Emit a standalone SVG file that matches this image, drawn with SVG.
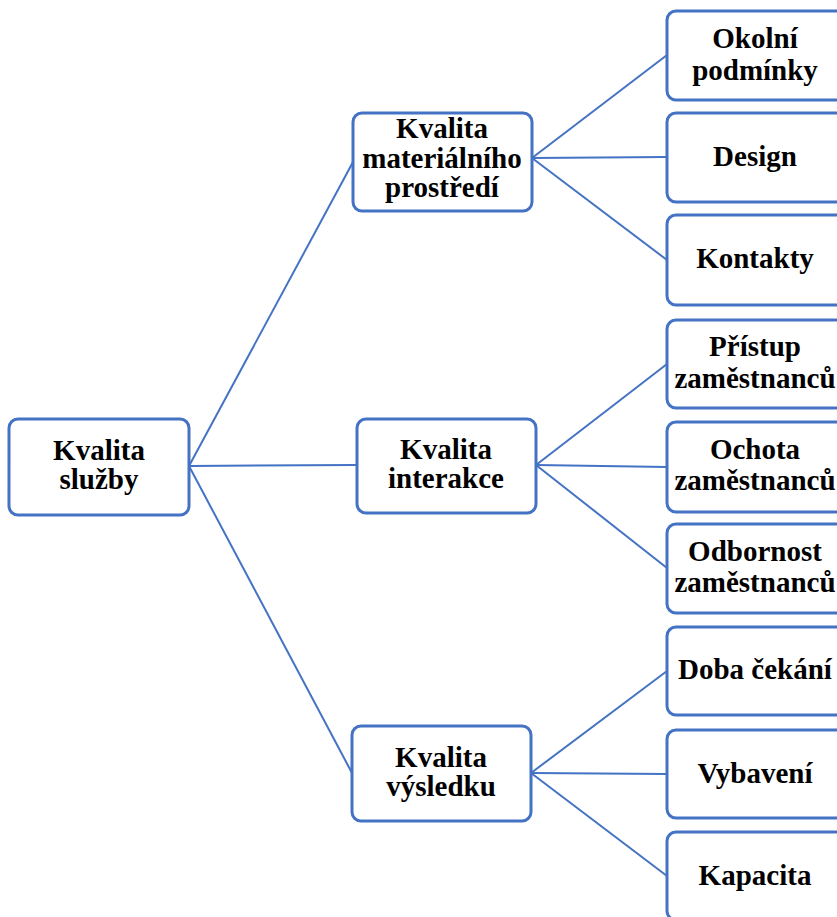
<svg xmlns="http://www.w3.org/2000/svg" width="837" height="917" viewBox="0 0 837 917">
<style>
.box{fill:#ffffff;stroke:#4472C4;stroke-width:3}
.t{font-family:"Liberation Serif","Times New Roman",serif;font-weight:bold;font-size:29px;fill:#000;text-anchor:middle}
.c{stroke:#4472C4;stroke-width:2;fill:none}
</style>
<rect width="837" height="917" fill="#ffffff"/>
<g id="connectors">
<line class="c" x1="189" y1="466" x2="353" y2="162"/>
<line class="c" x1="189" y1="466" x2="357" y2="465"/>
<line class="c" x1="189" y1="466" x2="352" y2="773"/>
<line class="c" x1="532" y1="158" x2="667" y2="55"/>
<line class="c" x1="532" y1="158" x2="667" y2="157"/>
<line class="c" x1="532" y1="158" x2="667" y2="260"/>
<line class="c" x1="536" y1="465" x2="667" y2="364"/>
<line class="c" x1="536" y1="465" x2="667" y2="467"/>
<line class="c" x1="536" y1="465" x2="667" y2="568"/>
<line class="c" x1="531" y1="773" x2="667" y2="671"/>
<line class="c" x1="531" y1="773" x2="667" y2="774"/>
<line class="c" x1="531" y1="773" x2="667" y2="876"/>
</g>
<g id="n-sluzby">
<rect class="box" x="9" y="419" width="180" height="96" rx="9"/>
<text class="t" x="99" y="460">Kvalita</text>
<text class="t" x="99" y="489">služby</text>
</g>
<g id="n-material">
<rect class="box" x="353" y="113" width="179" height="98" rx="9"/>
<text class="t" x="442" y="138">Kvalita</text>
<text class="t" x="442" y="168">materiálního</text>
<text class="t" x="442" y="197">prostředí</text>
</g>
<g id="n-interakce">
<rect class="box" x="357" y="419" width="179" height="94" rx="9"/>
<text class="t" x="446" y="459">Kvalita</text>
<text class="t" x="446" y="488">interakce</text>
</g>
<g id="n-vysledku">
<rect class="box" x="352" y="726" width="179" height="95" rx="9"/>
<text class="t" x="441" y="767">Kvalita</text>
<text class="t" x="441" y="796">výsledku</text>
</g>
<g id="n-okolni">
<rect class="box" x="667" y="11" width="180" height="89" rx="9"/>
<text class="t" x="755" y="48">Okolní</text>
<text class="t" x="755" y="80">podmínky</text>
</g>
<g id="n-design">
<rect class="box" x="667" y="113" width="180" height="89" rx="9"/>
<text class="t" x="755" y="166">Design</text>
</g>
<g id="n-kontakty">
<rect class="box" x="667" y="215" width="180" height="90" rx="9"/>
<text class="t" x="755" y="268">Kontakty</text>
</g>
<g id="n-pristup">
<rect class="box" x="667" y="320" width="180" height="88" rx="9"/>
<text class="t" x="755" y="356">Přístup</text>
<text class="t" x="755" y="388">zaměstnanců</text>
</g>
<g id="n-ochota">
<rect class="box" x="667" y="422" width="180" height="90" rx="9"/>
<text class="t" x="755" y="459">Ochota</text>
<text class="t" x="755" y="490">zaměstnanců</text>
</g>
<g id="n-odbornost">
<rect class="box" x="667" y="524" width="180" height="89" rx="9"/>
<text class="t" x="755" y="561">Odbornost</text>
<text class="t" x="755" y="592">zaměstnanců</text>
</g>
<g id="n-doba">
<rect class="box" x="667" y="627" width="180" height="88" rx="9"/>
<text class="t" x="755" y="679">Doba čekání</text>
</g>
<g id="n-vybaveni">
<rect class="box" x="667" y="730" width="180" height="88" rx="9"/>
<text class="t" x="755" y="783">Vybavení</text>
</g>
<g id="n-kapacita">
<rect class="box" x="667" y="832" width="180" height="88" rx="9"/>
<text class="t" x="755" y="885">Kapacita</text>
</g>
</svg>
